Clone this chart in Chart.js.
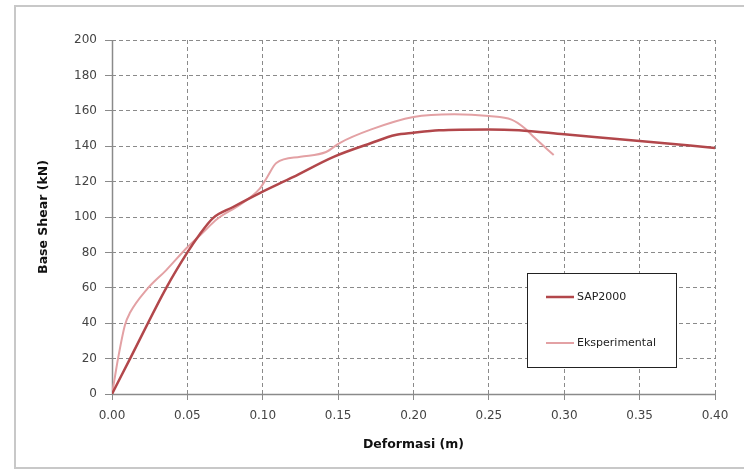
<!DOCTYPE html>
<html>
<head>
<meta charset="utf-8">
<script src="https://cdn.jsdelivr.net/npm/chart.js"></script>
<style>
  html, body { margin: 0; padding: 0; background: #fff; }
  #wrap { width: 744px; height: 470px; }
</style>
</head>
<body>
<div id="wrap"><canvas id="pushover-chart"></canvas></div>
<script>
// data
const sapDeformasi = [0, 0.012, 0.036, 0.05, 0.058, 0.067, 0.08, 0.098, 0.12, 0.147, 0.172, 0.188, 0.20, 0.217, 0.25, 0.27, 0.30, 0.35, 0.40]
const sapGeser = [0, 20, 60, 80, 90, 99.4, 105.5, 113.5, 122.5, 134, 141.8, 146.3, 147.6, 149, 149.5, 149, 146.7, 143, 139]

const eksDeformasi = [0, 0.002, 0.004, 0.0086, 0.012, 0.023, 0.036, 0.0495, 0.06, 0.07, 0.085, 0.098, 0.103, 0.109, 0.125, 0.142, 0.151, 0.172, 0.20, 0.227, 0.25, 0.265, 0.274, 0.28, 0.293]
const eksGeser = [0, 10, 20, 39, 46, 59, 70, 82.5, 91, 99, 107, 116, 122.6, 130.5, 134, 136.7, 141.8, 149.5, 156.5, 158, 157, 155, 150, 145, 135]

const seriesNames = ["SAP2000", "Eksperimental"]
const seriesColors = ["#b2474b", "#e3a1a4"]

const toPoints = (xs, ys) => xs.map((x, i) => ({ x: x, y: ys[i] }))

// outer frame, solid axis lines, legend box inside the plot
const framePlugin = {
  id: "frame",
  beforeDraw(chart) {
    const ctx = chart.ctx
    ctx.save()
    ctx.fillStyle = "#fff"
    ctx.fillRect(0, 0, chart.width, chart.height)
    ctx.strokeStyle = "#c8c8c8"
    ctx.lineWidth = 2
    ctx.strokeRect(15, 6, chart.width + 10, 462)
    ctx.restore()
  },
  beforeDatasetsDraw(chart) {
    const ctx = chart.ctx
    const x0 = Math.round(chart.scales.x.getPixelForValue(0)) + 0.5
    const y0 = Math.round(chart.scales.y.getPixelForValue(0)) + 0.5
    ctx.save()
    ctx.strokeStyle = "#8a8a8a"
    ctx.lineWidth = 1.5
    ctx.beginPath()
    ctx.moveTo(x0, chart.chartArea.top)
    ctx.lineTo(x0, y0)
    ctx.lineTo(chart.chartArea.right, y0)
    ctx.stroke()
    ctx.restore()
  },
  afterDraw(chart) {
    const ctx = chart.ctx
    ctx.save()
    ctx.fillStyle = "#fff"
    ctx.fillRect(527, 273, 149, 94)
    ctx.strokeStyle = "#222"
    ctx.lineWidth = 1
    ctx.strokeRect(527.5, 273.5, 149, 94)
    const rows = [297, 343]
    chart.data.datasets.forEach((ds, i) => {
      ctx.strokeStyle = ds.borderColor
      ctx.lineWidth = ds.borderWidth
      ctx.beginPath()
      ctx.moveTo(546, rows[i])
      ctx.lineTo(574, rows[i])
      ctx.stroke()
      ctx.fillStyle = "#222"
      ctx.font = "11px 'DejaVu Sans'"
      ctx.textBaseline = "middle"
      ctx.fillText(ds.label, 577, rows[i])
    })
    ctx.restore()
  }
}

const gridStyle = {
  color: "#8a8a8a",
  lineWidth: 1,
  tickColor: "#8a8a8a"
}
const borderStyle = { display: false, dash: [4, 3] }

const chart = new Chart(document.querySelector("#pushover-chart"), {
  type: "scatter",
  data: {
    datasets: [
      {
        label: seriesNames[0],
        data: toPoints(sapDeformasi, sapGeser),
        showLine: true,
        borderColor: seriesColors[0],
        borderWidth: 2.5,
        pointRadius: 0,
        cubicInterpolationMode: "monotone"
      },
      {
        label: seriesNames[1],
        data: toPoints(eksDeformasi, eksGeser),
        showLine: true,
        borderColor: seriesColors[1],
        borderWidth: 2,
        pointRadius: 0,
        cubicInterpolationMode: "monotone"
      }
    ]
  },
  options: {
    responsive: true,
    maintainAspectRatio: false,
    animation: false,
    layout: { padding: { left: 20, right: 29, top: 40, bottom: 0 } },
    plugins: { legend: { display: false }, tooltip: { enabled: false } },
    scales: {
      x: {
        type: "linear",
        min: 0,
        max: 0.4,
        afterFit: s => { s.height = 76 },
        grid: { ...gridStyle, tickLength: 6 },
        border: borderStyle,
        ticks: {
          stepSize: 0.05,
          padding: 9,
          color: "#444",
          font: { family: "DejaVu Sans", size: 12 },
          callback: v => v.toFixed(2)
        },
        title: {
          display: true,
          text: "Deformasi (m)",
          color: "#111",
          font: { family: "DejaVu Sans", size: 12.5, weight: "bold" },
          padding: { top: 0, bottom: 18 }
        }
      },
      y: {
        min: 0,
        max: 200,
        afterFit: s => { s.width = 92 },
        grid: { ...gridStyle, tickLength: 7 },
        border: borderStyle,
        ticks: {
          stepSize: 20,
          padding: 8,
          color: "#444",
          font: { family: "DejaVu Sans", size: 12 }
        },
        title: {
          display: true,
          text: "Base Shear (kN)",
          color: "#111",
          font: { family: "DejaVu Sans", size: 12.5, weight: "bold" },
          padding: { top: 16, bottom: 0 }
        }
      }
    }
  },
  plugins: [framePlugin]
})
</script>
</body>
</html>
